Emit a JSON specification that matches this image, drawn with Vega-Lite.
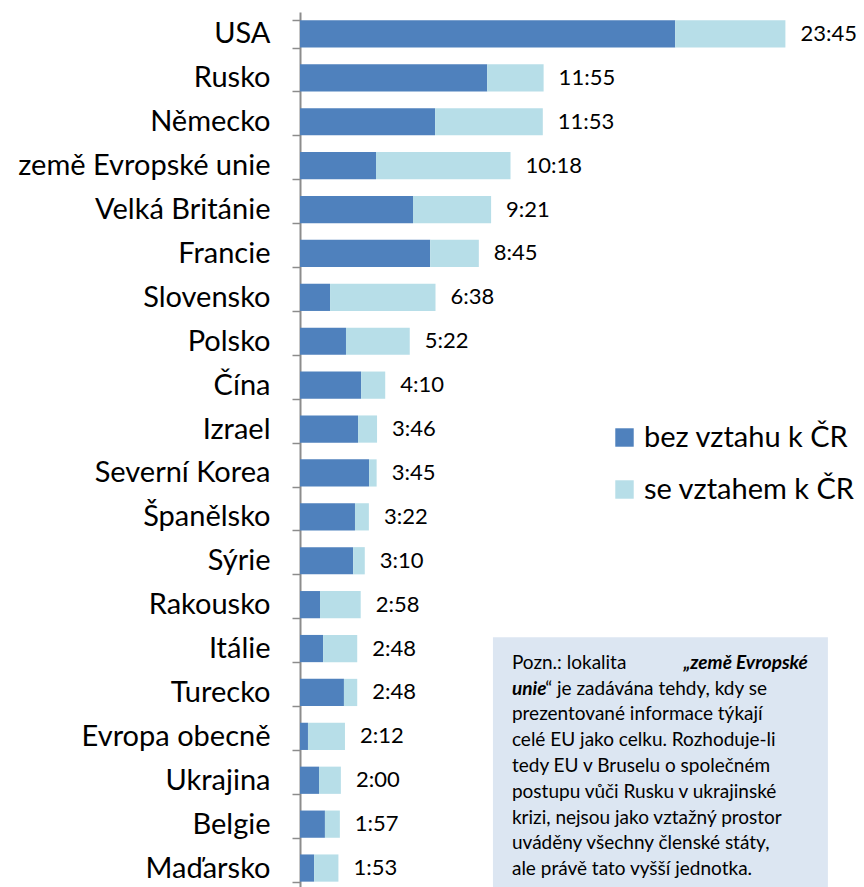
{
  "$schema": "https://vega.github.io/schema/vega-lite/v6.json",
  "width": 560,
  "height": 878,
  "autosize": "none",
  "padding": {"left": 300, "top": 12, "right": 4, "bottom": 0},
  "background": "white",
  "config": {"view": {"stroke": null}, "font": "Lato"},
  "datasets": {
    "casy": [
      {"zeme": "USA", "bez vztahu k ČR": 18.36, "se vztahem k ČR": 5.39, "celkem": 23.75, "popisek": "23:45"},
      {"zeme": "Rusko", "bez vztahu k ČR": 9.16, "se vztahem k ČR": 2.76, "celkem": 11.92, "popisek": "11:55"},
      {"zeme": "Německo", "bez vztahu k ČR": 6.61, "se vztahem k ČR": 5.27, "celkem": 11.88, "popisek": "11:53"},
      {"zeme": "země Evropské unie", "bez vztahu k ČR": 3.72, "se vztahem k ČR": 6.58, "celkem": 10.3, "popisek": "10:18"},
      {"zeme": "Velká Británie", "bez vztahu k ČR": 5.53, "se vztahem k ČR": 3.82, "celkem": 9.35, "popisek": "9:21"},
      {"zeme": "Francie", "bez vztahu k ČR": 6.37, "se vztahem k ČR": 2.38, "celkem": 8.75, "popisek": "8:45"},
      {"zeme": "Slovensko", "bez vztahu k ČR": 1.47, "se vztahem k ČR": 5.16, "celkem": 6.63, "popisek": "6:38"},
      {"zeme": "Polsko", "bez vztahu k ČR": 2.25, "se vztahem k ČR": 3.12, "celkem": 5.37, "popisek": "5:22"},
      {"zeme": "Čína", "bez vztahu k ČR": 2.99, "se vztahem k ČR": 1.18, "celkem": 4.17, "popisek": "4:10"},
      {"zeme": "Izrael", "bez vztahu k ČR": 2.84, "se vztahem k ČR": 0.93, "celkem": 3.77, "popisek": "3:46"},
      {"zeme": "Severní Korea", "bez vztahu k ČR": 3.38, "se vztahem k ČR": 0.37, "celkem": 3.75, "popisek": "3:45"},
      {"zeme": "Španělsko", "bez vztahu k ČR": 2.69, "se vztahem k ČR": 0.68, "celkem": 3.37, "popisek": "3:22"},
      {"zeme": "Sýrie", "bez vztahu k ČR": 2.6, "se vztahem k ČR": 0.57, "celkem": 3.17, "popisek": "3:10"},
      {"zeme": "Rakousko", "bez vztahu k ČR": 0.98, "se vztahem k ČR": 1.99, "celkem": 2.97, "popisek": "2:58"},
      {"zeme": "Itálie", "bez vztahu k ČR": 1.13, "se vztahem k ČR": 1.67, "celkem": 2.8, "popisek": "2:48"},
      {"zeme": "Turecko", "bez vztahu k ČR": 2.15, "se vztahem k ČR": 0.65, "celkem": 2.8, "popisek": "2:48"},
      {"zeme": "Evropa obecně", "bez vztahu k ČR": 0.39, "se vztahem k ČR": 1.81, "celkem": 2.2, "popisek": "2:12"},
      {"zeme": "Ukrajina", "bez vztahu k ČR": 0.93, "se vztahem k ČR": 1.07, "celkem": 2.0, "popisek": "2:00"},
      {"zeme": "Belgie", "bez vztahu k ČR": 1.22, "se vztahem k ČR": 0.73, "celkem": 1.95, "popisek": "1:57"},
      {"zeme": "Maďarsko", "bez vztahu k ČR": 0.69, "se vztahem k ČR": 1.19, "celkem": 1.88, "popisek": "1:53"}
    ],
    "box": [{"x1": 9.44, "x2": 25.83, "y1": 14.24, "y2": 20.2}],
    "vlevo": [
      {"x": 10.37, "y": 14.83, "t": "Pozn.: lokalita"},
      {"x": 12.0, "y": 15.42, "t": "“ je zadávána tehdy, kdy se"},
      {"x": 10.37, "y": 16.0, "t": "prezentované  informace  týkají"},
      {"x": 10.37, "y": 16.59, "t": "celé EU jako celku. Rozhoduje-li"},
      {"x": 10.37, "y": 17.18, "t": "tedy EU v Bruselu o společném"},
      {"x": 10.37, "y": 17.76, "t": "postupu vůči Rusku v ukrajinské"},
      {"x": 10.37, "y": 18.35, "t": "krizi, nejsou jako vztažný prostor"},
      {"x": 10.37, "y": 18.94, "t": "uváděny  všechny  členské  státy,"},
      {"x": 10.37, "y": 19.52, "t": "ale právě tato vyšší jednotka."}
    ],
    "tucne_vlevo": [
      {"x": 10.37, "y": 15.42, "t": "unie"}
    ],
    "tucne_vpravo": [
      {"x": 24.85, "y": 14.83, "t": "„země Evropské"}
    ]
  },
  "resolve": {"scale": {"y": "independent"}, "axis": {"y": "independent"}},
  "layer": [
    {
      "data": {"name": "casy"},
      "encoding": {
        "y": {
          "field": "zeme",
          "type": "nominal",
          "sort": null,
          "scale": {"paddingInner": 0.38, "paddingOuter": 0.19},
          "axis": {
            "title": null,
            "labelFont": "Lato",
            "labelFontSize": 29,
            "labelColor": "#000000",
            "labelPadding": 22,
            "labelLimit": 400,
            "tickBand": "extent",
            "tickSize": 8,
            "tickColor": "#8c8c8c",
            "tickWidth": 1.5,
            "domainColor": "#8c8c8c",
            "domainWidth": 2
          }
        }
      },
      "layer": [
        {
          "mark": {"type": "bar"},
          "transform": [{"fold": ["bez vztahu k ČR", "se vztahem k ČR"], "as": ["typ", "minuty"]}],
          "encoding": {
            "x": {"field": "minuty", "type": "quantitative", "stack": "zero", "scale": {"domain": [0, 27.4], "nice": false}, "axis": null},
            "color": {
              "field": "typ",
              "type": "nominal",
              "scale": {"domain": ["bez vztahu k ČR", "se vztahem k ČR"], "range": ["#4F81BD", "#B7DEE8"]},
              "legend": {
                "title": null,
                "orient": "none",
                "legendX": 310,
                "legendY": 411,
                "symbolType": "square",
                "symbolSize": 340,
                "symbolStrokeWidth": 0,
                "labelFont": "Lato",
                "labelFontSize": 29,
                "labelLimit": 400,
                "labelColor": "#000000",
                "labelOffset": 5,
                "rowPadding": 22
              }
            },
            "order": {"field": "typ", "sort": "ascending"}
          }
        },
        {
          "mark": {"type": "text", "align": "left", "baseline": "middle", "dx": 15, "fontSize": 22, "font": "Lato", "color": "#000000"},
          "encoding": {
            "x": {"field": "celkem", "type": "quantitative"},
            "text": {"field": "popisek", "type": "nominal"}
          }
        }
      ]
    },
    {
      "encoding": {
        "y": {"field": "y", "type": "quantitative", "scale": {"domain": [0, 20], "reverse": true, "nice": false, "zero": false}, "axis": null}
      },
      "layer": [
        {
          "data": {"name": "box"},
          "mark": {"type": "rect", "color": "#DCE6F2"},
          "encoding": {
            "x": {"field": "x1", "type": "quantitative"},
            "x2": {"field": "x2"},
            "y": {"field": "y1", "type": "quantitative", "scale": {"domain": [0, 20], "reverse": true, "nice": false, "zero": false}, "axis": null},
            "y2": {"field": "y2"}
          }
        },
        {
          "data": {"name": "vlevo"},
          "mark": {"type": "text", "align": "left", "baseline": "middle", "fontSize": 19, "font": "Lato", "color": "#000000"},
          "encoding": {
            "x": {"field": "x", "type": "quantitative"},
            "text": {"field": "t", "type": "nominal"}
          }
        },
        {
          "data": {"name": "tucne_vlevo"},
          "mark": {"type": "text", "align": "left", "baseline": "middle", "fontSize": 19, "font": "Lato", "fontWeight": "bold", "fontStyle": "italic", "color": "#000000"},
          "encoding": {
            "x": {"field": "x", "type": "quantitative"},
            "text": {"field": "t", "type": "nominal"}
          }
        },
        {
          "data": {"name": "tucne_vpravo"},
          "mark": {"type": "text", "align": "right", "baseline": "middle", "fontSize": 19, "font": "Lato", "fontWeight": "bold", "fontStyle": "italic", "color": "#000000"},
          "encoding": {
            "x": {"field": "x", "type": "quantitative"},
            "text": {"field": "t", "type": "nominal"}
          }
        }
      ]
    }
  ]
}
